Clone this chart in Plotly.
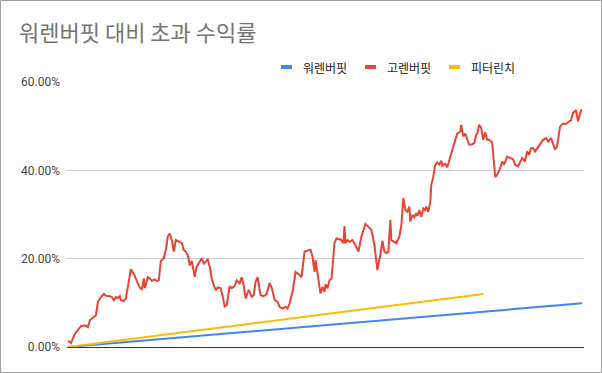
import plotly.graph_objects as go

# ---- data ----
title_text = "워렌버핏 대비 초과 수익률"
series_names = ["워렌버핏", "고렌버핏", "피터린치"]

# 워렌버핏 (straight benchmark line)
buffett_days = [0, 515]
buffett_vals = [0.0, 0.099]

# 피터린치 (straight line, shorter period)
lynch_days = [0, 416]
lynch_vals = [0.0, 0.120]

# 고렌버핏 (daily index, excess return in %)
goren_days = [0, 3, 7, 10, 13, 17, 20, 22, 25, 28, 30, 33, 36, 38, 42, 44, 46, 48, 50, 52,
              53, 56, 58, 60, 63, 66, 69, 72, 74, 76, 77, 80, 82, 84, 87, 89, 91, 93, 96, 98,
              100, 102, 104, 106, 108, 111, 114, 116, 118, 120, 122, 124, 127, 129, 132, 134, 136, 138, 140, 142,
              144, 146, 148, 150, 153, 155, 157, 159, 162, 164, 167, 169, 172, 174, 176, 178, 181, 184, 186, 188,
              190, 193, 196, 199, 202, 204, 207, 210, 212, 215, 218, 220, 222, 225, 228, 232, 234, 237, 240, 243,
              245, 247, 248, 251, 253, 255, 257, 258, 260, 262, 264, 267, 269, 272, 274, 276, 277, 278, 280, 282,
              285, 288, 291, 294, 298, 301, 304, 307, 310, 313, 315, 317, 319, 321, 323, 324, 327, 329, 332, 334,
              336, 338, 340, 342, 343, 345, 347, 349, 350, 352, 354, 356, 358, 359, 361, 363, 364, 366, 368, 370,
              372, 374, 375, 378, 380, 383, 385, 388, 390, 393, 394, 396, 398, 400, 402, 405, 407, 409, 410, 412,
              414, 416, 418, 420, 422, 425, 428, 430, 433, 435, 437, 440, 443, 446, 448, 451, 455, 458, 460, 462,
              464, 466, 468, 470, 473, 476, 479, 481, 484, 486, 488, 490, 493, 496, 499, 501, 504, 506, 509, 511,
              514, 515]
goren_pct = [1.4, 0.9, 3.0, 3.8, 4.7, 4.9, 4.5, 6.1, 6.7, 7.2, 10.2, 11.3, 12.0, 11.6, 11.5, 11.3, 10.6, 11.3, 11.1, 11.5,
             10.6, 10.4, 11.0, 13.6, 17.6, 16.5, 14.8, 13.4, 13.1, 15.5, 13.3, 15.8, 15.5, 15.0, 15.3, 14.9, 15.1, 19.5, 20.1, 22.0,
             25.0, 25.7, 24.2, 21.6, 24.2, 23.8, 23.5, 22.0, 21.6, 20.8, 18.5, 19.5, 15.9, 18.2, 19.3, 20.1, 18.9, 19.3, 19.8, 18.2,
             15.5, 14.0, 12.9, 13.5, 13.3, 11.4, 9.2, 9.5, 13.8, 13.3, 13.8, 15.1, 14.4, 15.8, 14.0, 11.0, 12.9, 11.4, 11.7, 14.8,
             15.8, 11.7, 11.5, 12.0, 14.5, 13.5, 10.7, 10.2, 9.1, 8.7, 9.1, 8.7, 9.9, 12.5, 17.0, 16.3, 15.8, 21.6, 21.8, 22.0,
             20.4, 17.0, 19.7, 15.5, 12.1, 13.6, 12.5, 14.2, 13.3, 15.1, 15.5, 23.5, 24.6, 24.4, 24.2, 23.5, 27.4, 23.5, 24.2, 23.8,
             24.2, 23.1, 21.6, 25.0, 27.9, 27.2, 26.5, 23.1, 17.4, 21.0, 24.0, 21.6, 21.3, 21.6, 28.8, 24.2, 23.8, 23.5, 25.0, 27.6,
             33.7, 31.0, 30.6, 31.8, 28.4, 29.9, 29.4, 30.3, 29.7, 31.0, 29.5, 31.4, 31.0, 31.8, 30.6, 32.9, 36.7, 38.6, 41.3, 41.8,
             41.3, 42.2, 41.0, 41.5, 40.7, 43.1, 45.0, 46.9, 48.3, 48.8, 50.3, 47.7, 48.3, 46.9, 45.8, 45.9, 46.2, 48.1, 48.3, 50.3,
             49.6, 46.9, 48.6, 46.9, 46.9, 46.3, 38.5, 39.0, 40.5, 42.0, 41.3, 43.1, 42.8, 42.5, 41.3, 40.9, 42.8, 42.0, 44.3, 43.5,
             45.0, 45.0, 44.3, 45.0, 45.8, 46.9, 47.3, 46.5, 47.3, 45.8, 44.7, 45.4, 49.9, 50.6, 50.5, 50.9, 51.3, 53.0, 53.6, 51.1,
             53.6, 53.7]
goren_vals = [p / 100.0 for p in goren_pct]

y_ticks = [0.0, 0.2, 0.4, 0.6]

colors = ["#4285F4", "#EA4335", "#FBBC04"]

# ---- figure ----
W, H = 602, 373
ml, mr, mt, mb = 67, 18, 82, 26
pw, ph = W - ml - mr, H - mt - mb

fig = go.Figure()
fig.add_trace(go.Scatter(x=buffett_days, y=buffett_vals, mode="lines", name=series_names[0],
                         line=dict(color=colors[0], width=2), showlegend=False))
fig.add_trace(go.Scatter(x=lynch_days, y=lynch_vals, mode="lines", name=series_names[2],
                         line=dict(color=colors[2], width=2), showlegend=False))
fig.add_trace(go.Scatter(x=goren_days, y=goren_vals, mode="lines", name=series_names[1],
                         line=dict(color=colors[1], width=2), showlegend=False))

shapes = []
annotations = []

# manual legend (short swatches like the original)
legend_items = [(series_names[0], colors[0], 281), (series_names[1], colors[1], 365), (series_names[2], colors[2], 449)]
legend_y = 67
for name, col, px in legend_items:
    shapes.append(dict(type="rect", xref="paper", yref="paper",
                       x0=(px - ml) / pw, x1=(px + 11 - ml) / pw,
                       y0=(H - mb - (legend_y + 2)) / ph, y1=(H - mb - (legend_y - 2)) / ph,
                       fillcolor=col, line=dict(width=0)))
    annotations.append(dict(xref="paper", yref="paper", x=(px + 20 - ml) / pw,
                            y=(H - mb - legend_y) / ph, xanchor="left", yanchor="middle",
                            text=name, showarrow=False,
                            font=dict(family="Noto Sans CJK KR", size=12, color="#222222")))

# outer border
shapes.append(dict(type="rect", xref="paper", yref="paper",
                   x0=(0.5 - ml) / pw, x1=(W - 0.5 - ml) / pw,
                   y0=(0.5 - mb) / ph, y1=(H - 0.5 - mb) / ph,
                   line=dict(color="#9e9e9e", width=1), fillcolor="rgba(0,0,0,0)", layer="below"))

fig.update_layout(
    width=W, height=H,
    margin=dict(l=ml, r=mr, t=mt, b=mb, pad=0),
    paper_bgcolor="white", plot_bgcolor="white",
    title=dict(text=title_text, xref="container", yref="container",
               x=19 / W, y=1 - 33 / H, xanchor="left", yanchor="middle",
               font=dict(family="Noto Sans CJK KR", size=22, color="#757575")),
    xaxis=dict(range=[-1, 517], showticklabels=False, showgrid=False, zeroline=False,
               showline=True, linecolor="#333333", linewidth=1, ticks=""),
    yaxis=dict(range=[0, 0.6], tickvals=y_ticks, tickformat=".2%", showgrid=True,
               gridcolor="#cccccc", gridwidth=1, zeroline=False, showline=False, ticks="",
               ticklabelstandoff=6,
               tickfont=dict(family="Roboto, Noto Sans CJK KR", size=12, color="#444444")),
    shapes=shapes, annotations=annotations,
    showlegend=False,
)

fig.write_html("out.html", config={"displayModeBar": False},
               post_script="document.body.style.margin='0';document.body.style.padding='0';")
